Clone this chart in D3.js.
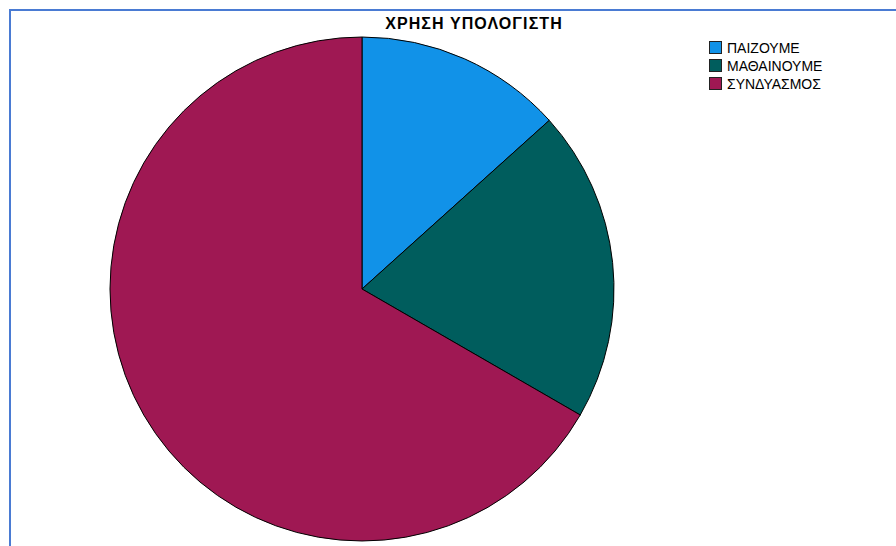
<!DOCTYPE html>
<html><head><meta charset="utf-8">
<script src="https://cdn.jsdelivr.net/npm/d3@7"></script>
<style>html,body{margin:0;padding:0;background:#fff;}svg{display:block;}</style>
</head><body>
<svg id="c" width="896" height="546"></svg>
<script>
const title = "ΧΡΗΣΗ ΥΠΟΛΟΓΙΣΤΗ";
const categories = ["ΠΑΙΖΟΥΜΕ", "ΜΑΘΑΙΝΟΥΜΕ", "ΣΥΝΔΥΑΣΜΟΣ"];
const values = [2, 3, 10];
const colors = ["#1192e8", "#005d5d", "#9f1853"];

const svg = d3.select("#c");
// frame
svg.append("path").attr("d", "M10,546 L10,10 L896,10")
  .attr("fill", "none").attr("stroke", "#4a7bd3").attr("stroke-width", 2);

svg.append("text").attr("x", 474).attr("y", 29).attr("text-anchor", "middle")
  .attr("font-family", "Liberation Sans, Arial, sans-serif").attr("font-weight", "bold")
  .attr("font-size", 16).attr("letter-spacing", 1.1).attr("fill", "#000").text(title);

const cx = 362, cy = 289, r = 252;
const pie = d3.pie().sort(null).value(d => d)(values);
const arc = d3.arc().innerRadius(0).outerRadius(r);
const color = d3.scaleOrdinal().domain(categories).range(colors);
const g = svg.append("g").attr("transform", `translate(${cx},${cy})`);
g.selectAll("path").data(pie).join("path")
  .attr("d", arc)
  .attr("fill", (d, i) => color(categories[i]))
  .attr("stroke", "#000").attr("stroke-width", 1).attr("stroke-linejoin", "round");

const lg = svg.append("g").attr("transform", "translate(709,41)");
const rows = lg.selectAll("g").data(categories).join("g")
  .attr("transform", (d, i) => `translate(0,${i * 18})`);
rows.append("rect").attr("x", 0.5).attr("y", 0.5).attr("width", 12).attr("height", 12)
  .attr("fill", d => color(d)).attr("stroke", "#222").attr("stroke-width", 1);
rows.append("text").attr("x", 18).attr("y", 11.5)
  .attr("font-family", "Liberation Sans, Arial, sans-serif").attr("font-size", 14)
  .attr("fill", "#000").text(d => d);
</script>
</body></html>
